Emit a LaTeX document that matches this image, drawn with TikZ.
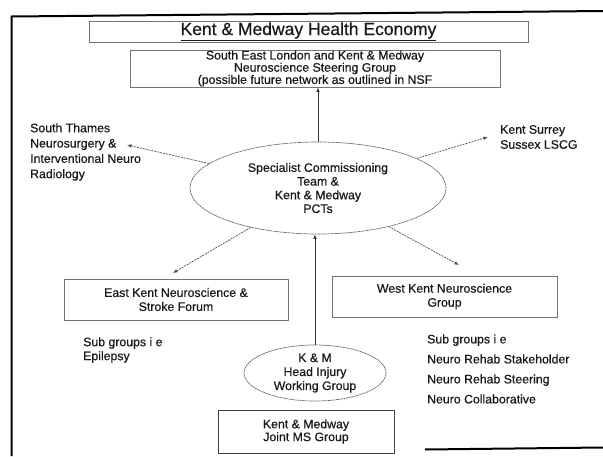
\documentclass[tikz,border=0pt]{standalone}
\usepackage{fontspec}
\setmainfont[FakeBold=0.6,AutoFakeBold=0.6]{Liberation Sans}
\usetikzlibrary{shapes.geometric,arrows.meta}
\tikzset{
  base/.style={inner sep=0pt, text=black!90, font=\fontsize{12.3}{14}\selectfont\bfseries},
  boxnode/.style={base, draw=black!55, line width=0.7pt, rectangle, align=center},
  ellnode/.style={base, draw=black!60, line width=0.7pt, ellipse, align=center, dash pattern=on 2pt off 0.6pt},
  plain/.style={base, align=left, anchor=west},
  solidarrow/.style={draw=black!80, line width=0.7pt, -{Latex[length=4.5pt,width=3.5pt]}},
  dasharrow/.style={draw=black!70, line width=0.7pt, dash pattern=on 2pt off 1pt, -{Latex[length=4.5pt,width=3.5pt]}},
  frameline/.style={line width=2pt, black}
}
\begin{document}
\begin{tikzpicture}[x=1pt,y=-1pt]
\useasboundingbox (0,0) rectangle (603,456);
% outer frame
\draw[frameline] (11.5,456) -- (11.5,16.5) -- (603,11);
\draw[frameline] (425,449.5) -- (603,447.5);

% boxes
\node[boxnode, minimum width=439pt, minimum height=21pt, font=\fontsize{17.5}{20}\selectfont\bfseries] (title) at (308.5,31.5) {\underline{Kent \& Medway Health Economy}};
\node[boxnode, minimum width=370pt, minimum height=37pt, font=\fontsize{12.3}{12.2}\selectfont\bfseries] (steer) at (315,68.5) {South East London and Kent \& Medway\\Neuroscience Steering Group\\(possible future network as outlined in NSF};
\node[ellnode, minimum width=256pt, minimum height=92pt, font=\fontsize{12.3}{13.7}\selectfont\bfseries] (c) at (318,188) {Specialist Commissioning\\Team \&\\Kent \& Medway\\PCTs};
\node[boxnode, minimum width=224pt, minimum height=41pt] (ek) at (176,299.5) {East Kent Neuroscience \&\\Stroke Forum};
\node[boxnode, minimum width=225pt, minimum height=41pt] (wk) at (444.5,296.5) {West Kent Neuroscience\\Group};
\node[ellnode, minimum width=142pt, minimum height=56pt] (hi) at (315,373) {K \& M\\Head Injury\\Working Group};
\node[boxnode, draw=black!75, minimum width=176pt, minimum height=43pt, font=\fontsize{12.3}{12.8}\selectfont\bfseries] (ms) at (306,431.5) {Kent \& Medway\\Joint MS Group};

% free texts
\node[plain, font=\fontsize{12.3}{15.3}\selectfont\bfseries] (st) at (30,152) {South Thames\\Neurosurgery \&\\Interventional Neuro\\Radiology};
\node[plain, font=\fontsize{12.3}{15}\selectfont\bfseries] (ks) at (500,137) {Kent Surrey\\Sussex LSCG};
\node[plain] (subl) at (83,350) {Sub groups i e\\Epilepsy};
\node[plain, font=\fontsize{12.3}{20}\selectfont\bfseries] (subr) at (427,369) {Sub groups i e\\Neuro Rehab Stakeholder\\Neuro Rehab Steering\\Neuro Collaborative};

% arrow tips
\coordinate (tst) at (127,145);
\coordinate (tks) at (488,137);
\coordinate (tek) at (173,273);
\coordinate (twk) at (459,265);

% connectors
\draw[solidarrow] (c.north) -- (c.north |- steer.south);
\draw[solidarrow] (hi.north) -- (hi.north |- c.south);
\draw[dasharrow] (c) -- (tst);
\draw[dasharrow] (c) -- (tks);
\draw[dasharrow] (c) -- (tek);
\draw[dasharrow] (c) -- (twk);
\end{tikzpicture}
\end{document}
